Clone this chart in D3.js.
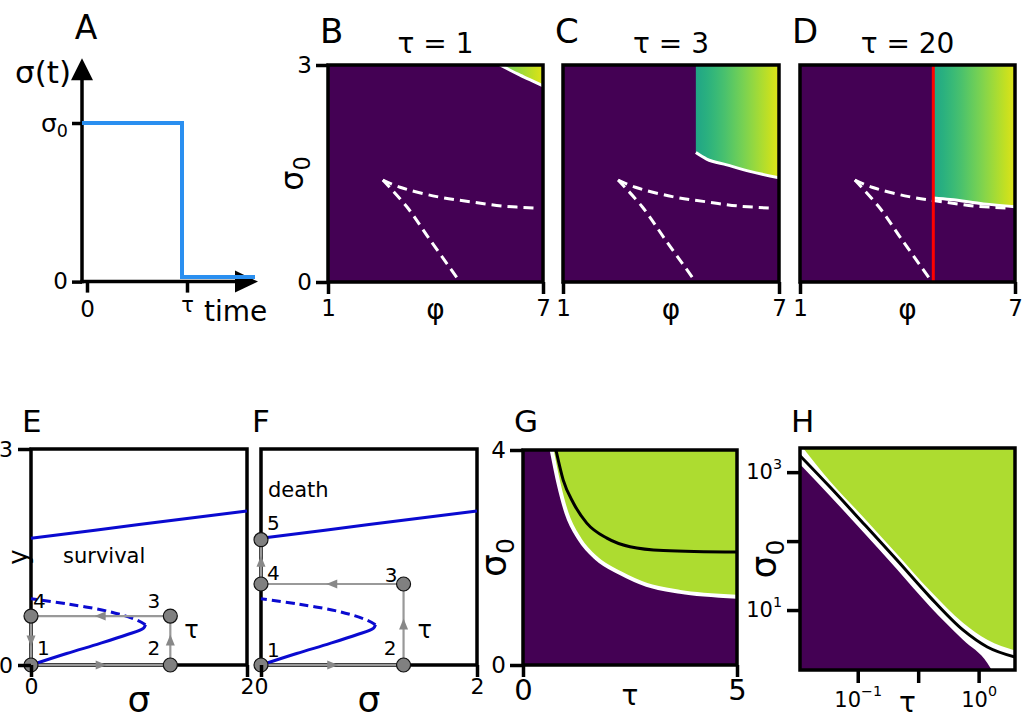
<!doctype html>
<html lang="en">
  <head>
    <meta charset="UTF-8" />
    <title>Stress pulse: survival and death maps</title>
    <script src="https://d3js.org/d3.v7.min.js"></script>
    <style>
      body {
        margin: 0;
        background: #fff;
      }
      svg {
        font-family: 'DejaVu Sans', sans-serif;
      }
    </style>
  </head>
  <body>
    <svg width="1024" height="724"></svg>
    <script>
      // ---------- data ----------
      // A: the stress pulse sigma(t)
      const pulseTime = [0, 1, 1, 1.73];
      const pulseSigma = [1, 1, 0, 0];

      // B-D: phi / sigma0 maps
      const mapTitles = ['τ = 1', 'τ = 3', 'τ = 20'];
      const foldUpperPhi = [2.53, 3.01, 4.04, 4.96, 5.88, 6.83];
      const foldUpperSigma = [1.41, 1.31, 1.18, 1.11, 1.05, 1.02];
      const foldLowerPhi = [2.53, 3.2, 3.85, 4.6];
      const foldLowerSigma = [1.41, 1.04, 0.58, 0.06];
      const edgeBPhi = [5.8, 6.36, 6.96, 7.0];
      const edgeBSigma = [3.0, 2.86, 2.72, 2.71];
      const edgeCPhi = [4.69, 4.99, 5.55, 6.19, 7.0];
      const edgeCSigma = [1.79, 1.7, 1.62, 1.53, 1.44];
      const edgeDPhi = [4.72, 5.19, 6.12, 7.0];
      const edgeDSigma = [1.16, 1.14, 1.08, 1.04];
      const redPhi = 4.72;

      // E-F: bifurcation diagram (sigma, y)
      const upperBranchS = [0, 1, 2];
      const upperBranchY = [1.76, 1.95, 2.14];
      const lowerBranchS = [0, 0.33, 0.64, 0.886, 1.04, 1.06];
      const lowerBranchY = [0, 0.16, 0.3, 0.42, 0.51, 0.56];
      const middleBranchS = [1.06, 0.98, 0.73, 0.33, 0];
      const middleBranchY = [0.56, 0.625, 0.74, 0.85, 0.92];
      const pathES = [0, 1.29, 1.29, 0];
      const pathEY = [0, 0, 0.68, 0.68];
      const pathFS = [0, 1.32, 1.32, 0, 0];
      const pathFY = [0, 0, 1.125, 1.125, 1.74];

      // G: linear tau / sigma0
      const gWhiteTau = [0.67, 0.83, 1.02, 1.33, 1.72, 2.27, 2.89, 3.67, 5.0];
      const gWhiteSigma = [4.0, 3.38, 2.82, 2.33, 1.98, 1.71, 1.49, 1.36, 1.27];
      const gBlackTau = [0.77, 0.94, 1.18, 1.49, 1.96, 2.5, 3.28, 5.0];
      const gBlackSigma = [4.0, 3.44, 3.01, 2.64, 2.36, 2.2, 2.13, 2.1];

      // H: log tau / sigma0
      const hTau = [0.033, 0.059, 0.111, 0.211, 0.397, 0.746, 1.18, 2.0];
      const hBlackSigma = [1762, 607, 182, 53, 15.4, 5.1, 2.91, 2.08];
      const hUpperSigma = [2600, 740, 224, 65, 19, 6.5, 3.7, 2.6];
      const hLowTau = [0.033, 0.059, 0.111, 0.211, 0.397, 0.746, 1.18, 1.3];
      const hLowSigma = [1318, 452, 135, 39, 11.2, 3.67, 1.71, 1.3];

      // ---------- helpers ----------
      const svg = d3.select('svg');
      const ink = '#000';
      const purple = '#440154';
      const lime = '#addc30';
      const phiColor = d3
        .scaleSequential(d3.interpolateViridis)
        .domain([1, 7.3]);

      function frame(x0, y0, x1, y1) {
        svg
          .append('rect')
          .attr('x', x0)
          .attr('y', y0)
          .attr('width', x1 - x0)
          .attr('height', y1 - y0)
          .attr('fill', 'none')
          .attr('stroke', ink)
          .attr('stroke-width', 3.5);
      }

      function tidy(g, size) {
        g.attr('font-family', null);
        g.select('.domain').remove();
        g.selectAll('.tick line')
          .attr('stroke', ink)
          .attr('stroke-width', 3.5);
        g.selectAll('.tick text')
          .attr('fill', ink)
          .attr('font-size', size);
        return g;
      }

      function sigmaZero(sel) {
        sel.text(null);
        sel.append('tspan').text('σ');
        sel
          .append('tspan')
          .attr('font-size', '70%')
          .attr('dy', '0.3em')
          .text('0');
      }

      function power(sel, exp) {
        sel.text(null);
        sel.append('tspan').text('10');
        sel
          .append('tspan')
          .attr('font-size', '68%')
          .attr('dy', '-0.75em')
          .text(exp);
      }

      function label(x, y, str, size, anchor) {
        return svg
          .append('text')
          .attr('x', x)
          .attr('y', y)
          .attr('font-size', size)
          .attr('text-anchor', anchor || 'middle')
          .attr('fill', ink)
          .text(str);
      }

      function clipRect(id, x0, y0, x1, y1) {
        svg
          .append('clipPath')
          .attr('id', id)
          .append('rect')
          .attr('x', x0)
          .attr('y', y0)
          .attr('width', x1 - x0)
          .attr('height', y1 - y0);
        return svg.append('g').attr('clip-path', `url(#${id})`);
      }

      // ---------- A ----------
      const xA = d3.scaleLinear().domain([0, 1]).range([82, 182]);
      const yA = d3.scaleLinear().domain([0, 1]).range([277, 123]);
      const axisYA = yA(-0.03);
      const yTop = yA(1.42);
      const xEnd = xA(1.76);

      svg
        .append('line')
        .attr('x1', xA(0))
        .attr('x2', xA(0))
        .attr('y1', axisYA + 1.7)
        .attr('y2', yTop + 20)
        .attr('stroke', ink)
        .attr('stroke-width', 3.5);
      svg
        .append('path')
        .attr(
          'd',
          `M${xA(0) - 11},${yTop + 22}L${xA(0) + 11},${yTop + 22}L${xA(0)},${yTop}Z`,
        )
        .attr('fill', ink);
      svg
        .append('line')
        .attr('x1', xA(0) - 1.7)
        .attr('x2', xEnd - 20)
        .attr('y1', axisYA)
        .attr('y2', axisYA)
        .attr('stroke', ink)
        .attr('stroke-width', 3.5);
      svg
        .append('path')
        .attr(
          'd',
          `M${xEnd - 23},${axisYA - 11}L${xEnd - 23},${axisYA + 11}L${xEnd},${axisYA}Z`,
        )
        .attr('fill', ink);

      svg
        .append('path')
        .datum(d3.zip(pulseTime, pulseSigma))
        .attr(
          'd',
          d3
            .line()
            .x((d) => xA(d[0]))
            .y((d) => yA(d[1])),
        )
        .attr('fill', 'none')
        .attr('stroke', '#2a8ff0')
        .attr('stroke-width', 4);

      const axA1 = svg
        .append('g')
        .attr('transform', `translate(${xA(0)},0)`)
        .call(
          d3
            .axisLeft(yA)
            .tickValues([-0.03, 1])
            .tickSize(10)
            .tickPadding(4)
            .tickFormat((d) => (d < 0.5 ? '0' : 's')),
        );
      tidy(axA1, 23);
      axA1
        .selectAll('.tick text')
        .filter((d) => d > 0.5)
        .attr('font-size', 25)
        .call(sigmaZero);

      const axA2 = svg
        .append('g')
        .attr('transform', `translate(0,${axisYA})`)
        .call(
          d3
            .axisBottom(xA)
            .tickValues([0.05, 1.05])
            .tickSize(11)
            .tickPadding(8)
            .tickFormat((d) => (d < 0.5 ? '0' : 'τ')),
        );
      tidy(axA2, 23);
      axA2
        .selectAll('.tick text')
        .filter((d) => d > 0.5)
        .attr('font-size', 21)
        .attr('dy', '0.55em');

      label(86, 39, 'A', 33);
      label(71, 83, 'σ(t)', 31, 'end');
      label(204, 321, 'time', 28, 'start');

      // ---------- B-D ----------
      const mapPanels = [
        { x0: 328, x1: 543, letter: 'B', phi: edgeBPhi, sig: edgeBSigma },
        { x0: 563, x1: 779, letter: 'C', phi: edgeCPhi, sig: edgeCSigma },
        { x0: 800, x1: 1015, letter: 'D', phi: edgeDPhi, sig: edgeDSigma },
      ];
      const mapTop = 65;
      const mapBottom = 282;

      mapPanels.forEach((p, i) => {
        const xs = d3.scaleLinear().domain([1, 7]).range([p.x0, p.x1]);
        const ys = d3.scaleLinear().domain([0, 3]).range([mapBottom, mapTop]);
        const gradId = `grad${p.letter}`;
        const grad = svg
          .append('defs')
          .append('linearGradient')
          .attr('id', gradId)
          .attr('gradientUnits', 'userSpaceOnUse')
          .attr('x1', xs(1))
          .attr('x2', xs(7))
          .attr('y1', 0)
          .attr('y2', 0);
        d3.range(1, 7.01, 0.25).forEach((v) => {
          grad
            .append('stop')
            .attr('offset', (v - 1) / 6)
            .attr('stop-color', phiColor(v));
        });

        const g = clipRect(`clip${p.letter}`, p.x0, mapTop, p.x1, mapBottom);
        g.append('rect')
          .attr('x', p.x0)
          .attr('y', mapTop)
          .attr('width', p.x1 - p.x0)
          .attr('height', mapBottom - mapTop)
          .attr('fill', phiColor(1));

        const edge = d3.zip(p.phi, p.sig);
        g.append('path')
          .datum(edge)
          .attr(
            'd',
            d3
              .area()
              .x((d) => xs(d[0]))
              .y0(ys(3))
              .y1((d) => ys(d[1]))
              .curve(d3.curveMonotoneX),
          )
          .attr('fill', `url(#${gradId})`);
        g.append('path')
          .datum(edge)
          .attr(
            'd',
            d3
              .line()
              .x((d) => xs(d[0]))
              .y((d) => ys(d[1]))
              .curve(d3.curveMonotoneX),
          )
          .attr('fill', 'none')
          .attr('stroke', '#fff')
          .attr('stroke-width', 3);

        const fold = d3
          .line()
          .x((d) => xs(d[0]))
          .y((d) => ys(d[1]))
          .curve(d3.curveCatmullRom);
        [
          d3.zip(foldUpperPhi, foldUpperSigma),
          d3.zip(foldLowerPhi, foldLowerSigma),
        ].forEach((pts) => {
          g.append('path')
            .datum(pts)
            .attr('d', fold)
            .attr('fill', 'none')
            .attr('stroke', '#fff')
            .attr('stroke-width', 3)
            .attr('stroke-dasharray', '10,6');
        });

        if (p.letter === 'D') {
          g.append('line')
            .attr('x1', xs(redPhi))
            .attr('x2', xs(redPhi))
            .attr('y1', ys(0))
            .attr('y2', ys(3))
            .attr('stroke', '#ff0000')
            .attr('stroke-width', 3);
        }

        frame(p.x0, mapTop, p.x1, mapBottom);

        tidy(
          svg
            .append('g')
            .attr('transform', `translate(0,${mapBottom})`)
            .call(
              d3
                .axisBottom(xs)
                .tickValues([1, 7])
                .tickSize(12)
                .tickPadding(6)
                .tickFormat(d3.format('d')),
            ),
          23,
        );
        if (i === 0) {
          tidy(
            svg
              .append('g')
              .attr('transform', `translate(${p.x0},0)`)
              .call(
                d3
                  .axisLeft(ys)
                  .tickValues([0, 3])
                  .tickSize(12)
                  .tickPadding(4)
                  .tickFormat(d3.format('d')),
              ),
            23,
          );
          svg
            .append('text')
            .attr('transform', `translate(303,${(mapTop + mapBottom) / 2}) rotate(-90)`)
            .attr('text-anchor', 'middle')
            .attr('font-size', 32)
            .call(sigmaZero);
        }

        label((p.x0 + p.x1) / 2, 319, 'φ', 28);
        label((p.x0 + p.x1) / 2, 53, mapTitles[i], 28);
        label(p.x0 - 8, 43, p.letter, 34, 'start');
      });

      // ---------- E-F ----------
      const bifTop = 449;
      const bifBottom = 665;
      const bifPanels = [
        {
          x0: 31, x1: 247, letter: 'E', s: pathES, y: pathEY, closed: true,
          offs: [[6, -10, 'start'], [-10, -10, 'end'], [-10, -8, 'end'], [2, -8, 'start']],
          note: 'survival', noteX: 63, noteY: 563,
        },
        {
          x0: 261, x1: 477, letter: 'F', s: pathFS, y: pathFY, closed: false,
          offs: [[6, -8, 'start'], [-7, -10, 'end'], [-6, -2, 'end'], [6, -4, 'start'], [6, -10, 'start']],
          note: 'death', noteX: 268, noteY: 497,
        },
      ];

      bifPanels.forEach((p, i) => {
        const xs = d3.scaleLinear().domain([0, 2]).range([p.x0, p.x1]);
        const ys = d3.scaleLinear().domain([0, 3]).range([bifBottom, bifTop]);
        const line = d3
          .line()
          .x((d) => xs(d[0]))
          .y((d) => ys(d[1]))
          .curve(d3.curveCatmullRom);

        frame(p.x0, bifTop, p.x1, bifBottom);

        svg.append('path')
          .datum(d3.zip(upperBranchS, upperBranchY))
          .attr('d', line)
          .attr('fill', 'none')
          .attr('stroke', '#0a0ad0')
          .attr('stroke-width', 3);
        svg.append('path')
          .datum(d3.zip(lowerBranchS, lowerBranchY))
          .attr('d', line)
          .attr('fill', 'none')
          .attr('stroke', '#0a0ad0')
          .attr('stroke-width', 3);
        svg.append('path')
          .datum(d3.zip(middleBranchS, middleBranchY))
          .attr('d', line)
          .attr('fill', 'none')
          .attr('stroke', '#0a0ad0')
          .attr('stroke-width', 3)
          .attr('stroke-dasharray', '9,5');

        // grey trajectory with arrows
        const pts = d3.zip(p.s, p.y).map((d) => [xs(d[0]), ys(d[1])]);
        const segs = p.closed ? pts.concat([pts[0]]) : pts;
        svg.append('path')
          .datum(segs)
          .attr('d', d3.line())
          .attr('fill', 'none')
          .attr('stroke', '#999')
          .attr('stroke-width', 2.2);
        for (let k = 0; k < segs.length - 1; k++) {
          const a = segs[k];
          const b = segs[k + 1];
          const len = Math.hypot(b[0] - a[0], b[1] - a[1]);
          const ux = (b[0] - a[0]) / len;
          const uy = (b[1] - a[1]) / len;
          const mx = (a[0] + b[0]) / 2;
          const my = (a[1] + b[1]) / 2;
          svg.append('path')
            .attr(
              'd',
              `M${mx + ux * 6},${my + uy * 6}` +
                `L${mx - ux * 5 - uy * 4.5},${my - uy * 5 + ux * 4.5}` +
                `L${mx - ux * 5 + uy * 4.5},${my - uy * 5 - ux * 4.5}Z`,
            )
            .attr('fill', '#888');
        }

        svg.selectAll(null)
          .data(pts)
          .enter()
          .append('circle')
          .attr('cx', (d) => d[0])
          .attr('cy', (d) => d[1])
          .attr('r', 7)
          .attr('fill', '#808080')
          .attr('stroke', '#111')
          .attr('stroke-width', 1.2);

        pts.forEach((d, k) => {
          label(d[0] + p.offs[k][0], d[1] + p.offs[k][1], String(k + 1), 20, p.offs[k][2]);
        });
        label(pts[1][0] + 14, ys(0) - 27, 'τ', 24, 'start');
        label(p.noteX, p.noteY, p.note, 21, 'start');

        tidy(
          svg
            .append('g')
            .attr('transform', `translate(0,${bifBottom})`)
            .call(
              d3
                .axisBottom(xs)
                .tickValues([0, 2])
                .tickSize(12)
                .tickPadding(1)
                .tickFormat(d3.format('d')),
            ),
          22,
        );
        if (i === 0) {
          tidy(
            svg
              .append('g')
              .attr('transform', `translate(${p.x0},0)`)
              .call(
                d3
                  .axisLeft(ys)
                  .tickValues([0, 3])
                  .tickSize(13)
                  .tickPadding(5)
                  .tickFormat(d3.format('d')),
              ),
            22,
          );
          svg
            .append('text')
            .attr('transform', `translate(27,557) rotate(-90)`)
            .attr('text-anchor', 'middle')
            .attr('font-size', 26)
            .text('y');
        }
        label((p.x0 + p.x1) / 2, 712, 'σ', 36);
        label(p.x0 - 9, 432, p.letter, 31, 'start');
      });

      // ---------- G ----------
      {
        const x0 = 523, x1 = 737, y0 = 450, y1 = 665;
        const xs = d3.scaleLinear().domain([0, 5]).range([x0, x1]);
        const ys = d3.scaleLinear().domain([0, 4]).range([y1, y0]);
        const g = clipRect('clipG', x0, y0, x1, y1);
        g.append('rect')
          .attr('x', x0)
          .attr('y', y0)
          .attr('width', x1 - x0)
          .attr('height', y1 - y0)
          .attr('fill', lime);
        const white = d3.zip(gWhiteTau, gWhiteSigma);
        g.append('path')
          .datum([[0, 4]].concat(white))
          .attr(
            'd',
            d3
              .area()
              .x((d) => xs(d[0]))
              .y0(ys(0))
              .y1((d) => ys(d[1]))
              .curve(d3.curveMonotoneX),
          )
          .attr('fill', purple);
        const line = d3
          .line()
          .x((d) => xs(d[0]))
          .y((d) => ys(d[1]))
          .curve(d3.curveMonotoneX);
        g.append('path')
          .datum(white)
          .attr('d', line)
          .attr('fill', 'none')
          .attr('stroke', '#fff')
          .attr('stroke-width', 4);
        g.append('path')
          .datum(d3.zip(gBlackTau, gBlackSigma))
          .attr('d', line)
          .attr('fill', 'none')
          .attr('stroke', ink)
          .attr('stroke-width', 3);
        frame(x0, y0, x1, y1);

        tidy(
          svg
            .append('g')
            .attr('transform', `translate(0,${y1})`)
            .call(
              d3
                .axisBottom(xs)
                .tickValues([0, 5])
                .tickSize(12)
                .tickPadding(2)
                .tickFormat(d3.format('d')),
            ),
          29,
        );
        tidy(
          svg
            .append('g')
            .attr('transform', `translate(${x0},0)`)
            .call(
              d3
                .axisLeft(ys)
                .tickValues([0, 4])
                .tickSize(13)
                .tickPadding(4)
                .tickFormat(d3.format('d')),
            ),
          23,
        );
        svg
          .append('text')
          .attr('transform', `translate(506,${(y0 + y1) / 2}) rotate(-90)`)
          .attr('text-anchor', 'middle')
          .attr('font-size', 36)
          .call(sigmaZero);
        label((x0 + x1) / 2, 705, 'τ', 28);
        label(514, 432, 'G', 31, 'start');
      }

      // ---------- H ----------
      {
        const x0 = 800, x1 = 1015, y0 = 448, y1 = 670;
        const xs = d3.scaleLog().domain([0.0333, 2]).range([x0, x1]);
        const ys = d3.scaleLog().domain([1.35, 2240]).range([y1, y0]);
        const g = clipRect('clipH', x0, y0, x1, y1);
        g.append('rect')
          .attr('x', x0)
          .attr('y', y0)
          .attr('width', x1 - x0)
          .attr('height', y1 - y0)
          .attr('fill', lime);
        const under = d3
          .area()
          .x((d) => xs(d[0]))
          .y0(y1 + 5)
          .y1((d) => ys(d[1]))
          .curve(d3.curveMonotoneX);
        g.append('path')
          .datum(d3.zip(hTau, hUpperSigma))
          .attr('d', under)
          .attr('fill', '#fff');
        g.append('path')
          .datum(d3.zip(hLowTau, hLowSigma))
          .attr('d', under)
          .attr('fill', purple);
        g.append('path')
          .datum(d3.zip(hTau, hBlackSigma))
          .attr(
            'd',
            d3
              .line()
              .x((d) => xs(d[0]))
              .y((d) => ys(d[1]))
              .curve(d3.curveMonotoneX),
          )
          .attr('fill', 'none')
          .attr('stroke', ink)
          .attr('stroke-width', 3);
        frame(x0, y0, x1, y1);

        const axX = svg
          .append('g')
          .attr('transform', `translate(0,${y1})`)
          .call(
            d3
              .axisBottom(xs)
              .tickValues([0.1, Math.sqrt(0.1), 1])
              .tickSize(13)
              .tickPadding(9)
              .tickFormat((d) => (Math.abs(d - Math.sqrt(0.1)) < 0.01 ? '' : 'p')),
          );
        tidy(axX, 21);
        axX
          .selectAll('.tick text')
          .filter((d) => Math.abs(d - Math.sqrt(0.1)) > 0.01)
          .each(function (d) {
            d3.select(this).call(power, d < 0.5 ? '−1' : '0');
          });

        const axY = svg
          .append('g')
          .attr('transform', `translate(${x0},0)`)
          .call(
            d3
              .axisLeft(ys)
              .tickValues([10, 100, 1000])
              .tickSize(13)
              .tickPadding(5)
              .tickFormat((d) => (d === 100 ? '' : 'p')),
          );
        tidy(axY, 21);
        axY
          .selectAll('.tick text')
          .filter((d) => d !== 100)
          .each(function (d) {
            d3.select(this).call(power, d === 10 ? '1' : '3');
          });

        svg
          .append('text')
          .attr('transform', `translate(776,${(y0 + y1) / 2}) rotate(-90)`)
          .attr('text-anchor', 'middle')
          .attr('font-size', 36)
          .call(sigmaZero);
        label((x0 + x1) / 2, 712, 'τ', 28);
        label(791, 432, 'H', 31, 'start');
      }
    </script>
  </body>
</html>
